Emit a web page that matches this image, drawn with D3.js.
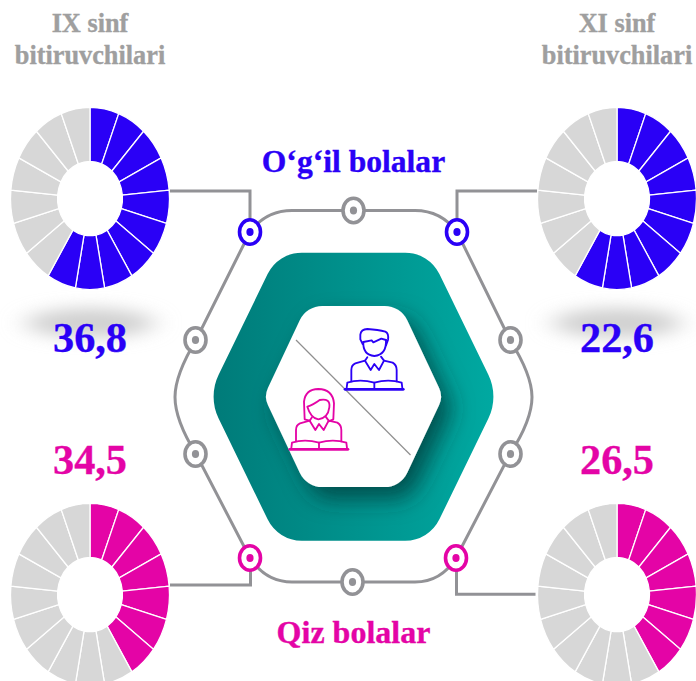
<!DOCTYPE html>
<html>
<head>
<meta charset="utf-8">
<script src="https://cdn.jsdelivr.net/npm/d3@7"></script>
<style>
  html, body { margin: 0; padding: 0; background: #fff; }
  svg { display: block; }
  text { font-family: "Liberation Serif", serif; font-weight: bold; text-anchor: middle; stroke-width: 0.35; }
</style>
</head>
<body>
<svg width="696" height="681"></svg>
<script>
// data
const groups = ["IX sinf o'g'il", "XI sinf o'g'il", "IX sinf qiz", "XI sinf qiz"];
const rates = ["36,8", "22,6", "34,5", "26,5"];
const filledSegments = [10, 10, 7, 7];
const segmentCount = 17;
const blue = "#2a00f6", pink = "#e404a6", gray = "#d7d7d7", lineGray = "#929296";
const groupColors = [blue, blue, pink, pink];

const svg = d3.select("svg");
const defs = svg.append("defs");

const tealGrad = defs.append("linearGradient").attr("id", "teal");
tealGrad.append("stop").attr("offset", "0").attr("stop-color", "#007b79");
tealGrad.append("stop").attr("offset", "1").attr("stop-color", "#00a9a1");

const glow = defs.append("filter").attr("id", "glow")
    .attr("filterUnits", "userSpaceOnUse")
    .attr("x", -60).attr("y", 270).attr("width", 820).attr("height", 110);
glow.append("feGaussianBlur").attr("stdDeviation", "13 8");

const shadow = defs.append("filter").attr("id", "shadow")
    .attr("x", "-30%").attr("y", "-30%").attr("width", "170%").attr("height", "170%");
shadow.append("feDropShadow").attr("dx", 10).attr("dy", 12).attr("stdDeviation", 11)
    .attr("flood-color", "#002f2e").attr("flood-opacity", 0.68);

// donut positions
const donutX = [90, 617, 90, 617];
const donutY = [198.5, 198.5, 594.5, 594.5];

// soft gray band behind the upper numbers
svg.selectAll(".glow").data([90, 617]).enter().append("ellipse")
    .attr("class", "glow")
    .attr("cx", d => d).attr("cy", 323).attr("rx", 64).attr("ry", 15)
    .attr("fill", "#d0d0d0").attr("filter", "url(#glow)");

// donuts
const pie = d3.pie().sort(null).value(1);
const arc = d3.arc().innerRadius(32.5).outerRadius(79.5);

groups.forEach((g, i) => {
  const donut = svg.append("g")
      .attr("transform", `translate(${donutX[i]},${donutY[i]}) scale(1,1.145)`);
  donut.selectAll("path").data(pie(d3.range(segmentCount))).enter().append("path")
      .attr("d", arc)
      .attr("fill", d => d.index < filledSegments[i] ? groupColors[i] : gray)
      .attr("stroke", "#fff").attr("stroke-width", 1.3)
      .attr("vector-effect", "non-scaling-stroke");
});

// hexagon with rounded corners
const roundedHex = (cx, cy, halfW, halfTop, halfH, rTop, rSide) => {
  const pts = [
    [cx - halfTop, cy - halfH, rTop], [cx + halfTop, cy - halfH, rTop],
    [cx + halfW, cy, rSide], [cx + halfTop, cy + halfH, rTop],
    [cx - halfTop, cy + halfH, rTop], [cx - halfW, cy, rSide]
  ];
  const p = d3.path();
  p.moveTo(cx, cy - halfH);
  [1, 2, 3, 4, 5, 0].forEach(k => {
    const a = pts[k], b = pts[(k + 1) % 6];
    p.arcTo(a[0], a[1], b[0], b[1], a[2]);
  });
  p.closePath();
  return p.toString();
};

svg.append("path").attr("d", roundedHex(353.5, 396.7, 145.5, 75.5, 144, 38, 50))
    .attr("fill", "url(#teal)");
svg.append("path").attr("d", roundedHex(353.5, 396.5, 89.6, 47, 90.6, 25, 20))
    .attr("fill", "#fff").attr("filter", "url(#shadow)");

svg.append("line").attr("x1", 296).attr("y1", 340).attr("x2", 410.5).attr("y2", 455)
    .attr("stroke", "#8f8f8f").attr("stroke-width", 1.2);

// gray track around the hexagon
svg.append("path")
    .attr("d", "M250 232 Q266 210.5 292 210.5 L415 210.5 Q441 210.5 457 232 L510 340"
      + " Q532 375 532 397 Q532 420 510 454 L456 558 Q441 582 415 582 L292 582 Q266 582 250 558"
      + " L196 454 Q175 420 175 397 Q175 375 196 340 Z")
    .attr("fill", "none").attr("stroke", lineGray).attr("stroke-width", 3);

// leader lines
svg.selectAll(".leader").data([
  "M170 191 H250 V222", "M537 191 H457 V222",
  "M170 585 H250.5 V568", "M535.5 594.3 H456.5 V568"
]).enter().append("path").attr("class", "leader")
    .attr("d", d => d).attr("fill", "none").attr("stroke", lineGray).attr("stroke-width", 3);

// ring nodes
const nodes = [
  [250, 232, blue], [457, 232, blue], [250, 558, pink], [456, 558, pink],
  [353.5, 210.5, lineGray], [352.5, 582, lineGray],
  [195.5, 340, lineGray], [510.5, 340, lineGray], [195.5, 454, lineGray], [510.5, 454, lineGray]
];
const node = svg.selectAll(".node").data(nodes).enter().append("g").attr("class", "node")
    .attr("transform", d => `translate(${d[0]},${d[1]})`);
node.append("ellipse").attr("rx", 10.5).attr("ry", 12.2)
    .attr("fill", "#fff").attr("stroke", d => d[2]).attr("stroke-width", 3.6);
node.append("ellipse").attr("rx", 3.6).attr("ry", 4.1).attr("fill", d => d[2]);

// student icons, drawn at 3x and scaled down
const student = (color, dx, dy, head) => {
  const g = svg.append("g")
      .attr("transform", `translate(280,320) scale(${1 / 3}) translate(${dx},${dy})`)
      .attr("fill", "none").attr("stroke", color).attr("stroke-width", 5.5)
      .attr("stroke-linejoin", "round").attr("stroke-linecap", "round");
  head.forEach(d => g.append("path").attr("d", d));
  [
    "M262 112 L255 122 L272 150 L283 132 L297 150 L312 122 L303 110",
    "M255 122 L226 130 Q214 135 214 150 L214 184",
    "M312 122 L338 128 Q350 135 350 150 L350 184",
    "M200 204 L202 188 Q240 176 283 188 Q325 176 365 188 L367 204",
    "M283 188 L283 204",
    "M195 208 L370 208"
  ].forEach(d => g.append("path").attr("d", d));
  g.select("path:last-child").attr("stroke-width", 8);
};
student(blue, 0, 0, [
  "M248 72 L241 58 L241 44 Q243 28 262 27 Q295 29 316 35 Q327 40 324 60 L318 76",
  "M250 66 L275 61 L280 67 L304 56 L318 60",
  "M250 66 Q248 104 283 108 Q320 104 318 60"
]);
student(pink, -166, 180, [
  "M255 122 L240 118 L238 65 Q242 28 281 27 Q324 28 328 70 L326 118 L312 124",
  "M248 80 Q265 75 285 60 Q318 54 314 82 Q310 114 281 118 Q258 114 248 80"
]);

// texts
const label = (txt, x, y, size, color) => svg.append("text")
    .attr("x", x).attr("y", y).attr("font-size", size)
    .attr("fill", color).attr("stroke", color).text(txt);

label("IX sinf", 90, 32, 26.3, "#9f9f9f");
label("bitiruvchilari", 90, 64, 26.3, "#9f9f9f");
label("XI sinf", 617, 32, 26.3, "#9f9f9f");
label("bitiruvchilari", 617, 64, 26.3, "#9f9f9f");
label("O‘g‘il bolalar", 353.5, 172, 31.6, blue);
label("Qiz bolalar", 353.5, 643, 32, pink);

const rateX = [90, 617, 90, 617];
const rateY = [351.5, 351.5, 474, 474];
rates.forEach((r, i) => label(r, rateX[i], rateY[i], 42.3, groupColors[i]));
</script>
</body>
</html>
